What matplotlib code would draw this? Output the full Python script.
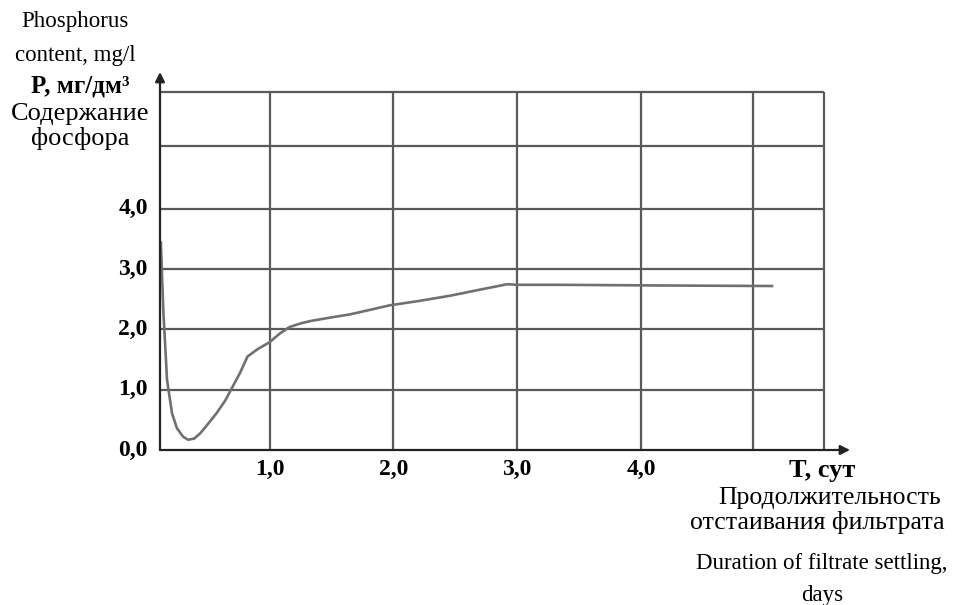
import matplotlib
matplotlib.use("Agg")
import matplotlib.pyplot as plt

plt.rcParams['font.family'] = ['Liberation Serif', 'DejaVu Serif']

# phosphorus content vs settling time
days = [0.12, 0.14, 0.17, 0.21, 0.25, 0.30, 0.34, 0.39, 0.44, 0.50, 0.57,
        0.64, 0.70, 0.76, 0.82, 0.90, 1.0, 1.08, 1.16, 1.25, 1.33, 1.50,
        1.65, 1.80, 1.97, 2.20, 2.46, 2.70, 2.92, 3.0, 3.35, 4.07, 5.06]
phosphorus = [3.44, 2.30, 1.16, 0.61, 0.36, 0.22, 0.17, 0.19, 0.28, 0.43,
              0.61, 0.82, 1.05, 1.28, 1.55, 1.67, 1.79, 1.93, 2.04, 2.10,
              2.14, 2.20, 2.25, 2.32, 2.40, 2.47, 2.56, 2.66, 2.75, 2.74,
              2.74, 2.73, 2.72]

x_ticks = [1.0, 2.0, 3.0, 4.0]
x_labels = ['1,0', '2,0', '3,0', '4,0']
y_ticks = [0.0, 1.0, 2.0, 3.0, 4.0]
y_labels = ['0,0', '1,0', '2,0', '3,0', '4,0']

W, H = 959, 605
fig = plt.figure(figsize=(W / 100, H / 100), dpi=100)
ax = fig.add_axes([160 / W, (H - 450) / H, 690 / W, (450 - 72) / H])
x0, x_end, x_right = 0.113, 5.69, 5.48
y_top, y_end = 5.94, 6.27
ax.set_xlim(x0, x_end)
ax.set_ylim(0, y_end)
ax.axis('off')

grid_c = '#5a5a5a'
# grid
ax.vlines(x_ticks + [4.91, x_right], 0, y_top, color=grid_c, lw=1.6)
ax.hlines([1, 2, 3, 4, 5.05, y_top], x0, x_right, color=grid_c, lw=1.6)

# axes with arrows
ax.annotate('', xy=(x_end, 0), xytext=(x0, 0),
            arrowprops=dict(arrowstyle='-|>', color='#222222', lw=1.6,
                            mutation_scale=14, shrinkA=0, shrinkB=0))
ax.annotate('', xy=(x0, y_end), xytext=(x0, 0),
            arrowprops=dict(arrowstyle='-|>', color='#222222', lw=1.6,
                            mutation_scale=14, shrinkA=0, shrinkB=0))

ax.plot(days, phosphorus, color='#707070', lw=1.9, solid_joinstyle='round')

for t, lab in zip(x_ticks, x_labels):
    ax.text(t, -0.15, lab, ha='center', va='top', fontsize=17, fontweight='bold')
for t, lab in zip(y_ticks, y_labels):
    ax.text(x0 - 0.1, t, lab, ha='right', va='center', fontsize=17,
            fontweight='bold')


def ftext(px, py, s, **kw):
    fig.text(px / W, 1 - py / H, s, ha='center', va='center', **kw)


ftext(75, 22, 'Phosphorus', fontsize=16.5)
ftext(75, 55, 'content, mg/l', fontsize=16.5)
ftext(80, 86, 'P, мг/дм³', fontsize=18, fontweight='bold')
ftext(80, 114, 'Содержание', fontsize=19)
ftext(80, 139, 'фосфора', fontsize=19)

ftext(822, 471, 'T, сут', fontsize=19, fontweight='bold')
ftext(830, 498, 'Продолжительность', fontsize=18.5)
ftext(817, 523, 'отстаивания фильтрата', fontsize=18.5)
ftext(822, 563, 'Duration of filtrate settling,', fontsize=16.5)
ftext(822, 595, 'days', fontsize=16.5)

fig.savefig('out.png', dpi=100)
